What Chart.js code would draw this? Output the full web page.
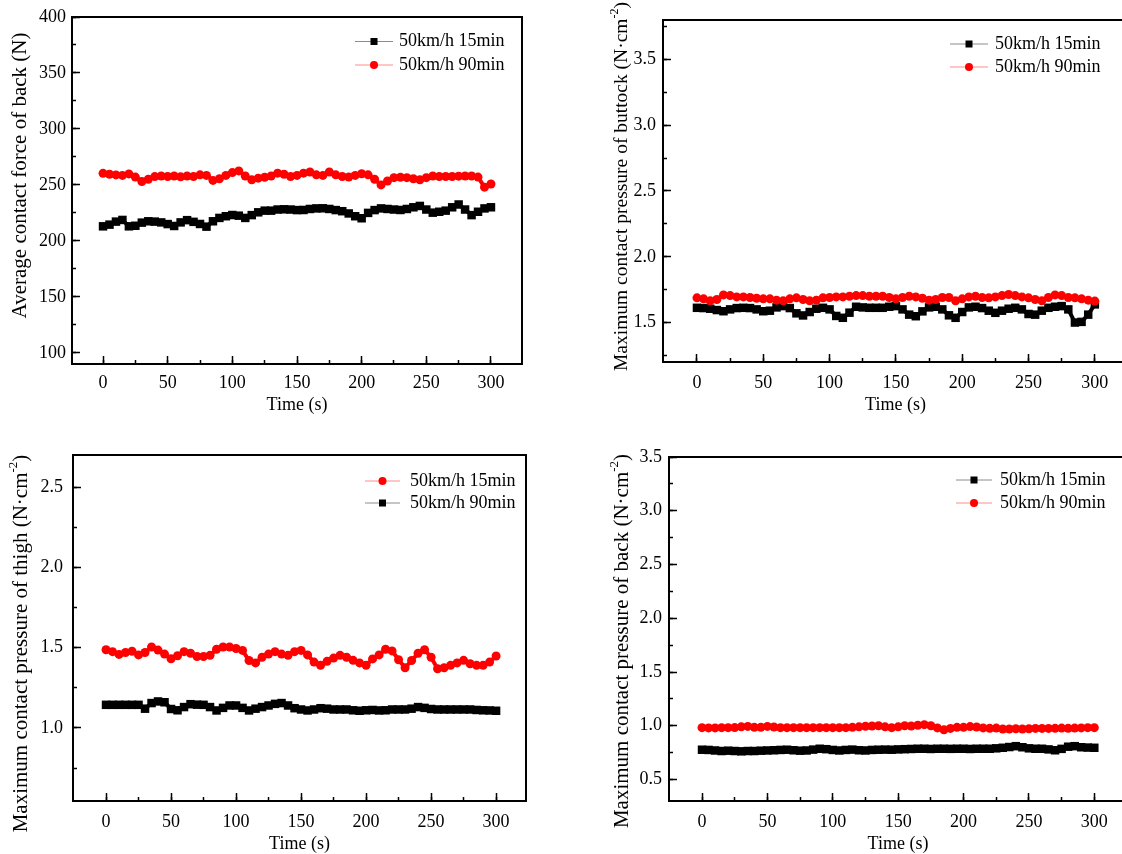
<!DOCTYPE html>
<html>
<head>
<meta charset="utf-8">
<title>Seat contact force and pressure over time</title>
<script src="https://cdn.jsdelivr.net/npm/chart.js@4.4.1/dist/chart.umd.min.js"></script>
<style>
  html, body { margin: 0; padding: 0; background: #fff; overflow: hidden; }
  body { width: 1122px; height: 854px; position: relative; }
  canvas { position: absolute; }
</style>
</head>
<body>
<canvas id="backForce" width="561" height="427" style="left:0;top:0"></canvas>
<canvas id="buttock" width="600" height="427" style="left:561px;top:0"></canvas>
<canvas id="thigh" width="561" height="427" style="left:0;top:427px"></canvas>
<canvas id="backPressure" width="600" height="427" style="left:561px;top:427px"></canvas>
<script>
// Sampling times (s)
const timeSec = [0,5,10,15,20,25,30,35,40,45,50,55,60,65,70,75,80,85,90,95,100,
  105,110,115,120,125,130,135,140,145,150,155,160,165,170,175,180,185,190,195,200,
  205,210,215,220,225,230,235,240,245,250,255,260,265,270,275,280,285,290,295,300];

// Tick values
const timeTicks = [0,50,100,150,200,250,300];
const timeMinorTicks = [0,25,50,75,100,125,150,175,200,225,250,275,300];
const backForceTicks = [100,150,200,250,300,350,400];
const backForceMinorTicks = [100,125,150,175,200,225,250,275,300,325,350,375,400];
const buttockTicks = [1.5,2.0,2.5,3.0,3.5];
const buttockMinorTicks = [1.25,1.5,1.75,2.0,2.25,2.5,2.75,3.0,3.25,3.5,3.75];
const thighTicks = [1.0,1.5,2.0,2.5];
const thighMinorTicks = [0.75,1.0,1.25,1.5,1.75,2.0,2.25,2.5];
const backPressureTicks = [0.5,1.0,1.5,2.0,2.5,3.0,3.5];
const backPressureMinorTicks = [0.5,0.75,1.0,1.25,1.5,1.75,2.0,2.25,2.5,2.75,3.0,3.25,3.5];

// Average contact force of back (N)
const backForce15 = [213.0,214.5,217.2,218.7,213.0,213.5,216.3,217.5,217.2,216.5,215.0,213.3,216.5,218.5,217.0,215.1,212.7,217.5,220.5,222.0,223.1,
  222.5,220.5,223.0,225.5,227.0,227.0,228.0,228.2,228.0,227.5,227.6,228.5,229.0,229.1,228.5,227.5,226.5,224.5,222.0,220.2,
  225.0,227.5,229.0,228.5,228.0,227.6,228.5,230.0,231.2,228.0,225.2,226.0,227.0,230.0,232.5,228.0,223.0,226.0,229.0,230.0];
const backForce90 = [260.3,259.5,258.9,258.5,259.8,257.0,253.0,255.0,257.4,258.0,257.5,258.0,257.2,258.0,257.5,259.0,258.5,254.0,255.5,258.5,261.0,
  262.5,258.0,254.5,256.0,256.8,258.0,260.5,259.5,257.5,258.5,260.5,261.5,259.0,258.5,261.5,259.0,257.5,257.0,258.5,260.0,
  259.0,255.0,250.0,253.5,256.5,256.8,256.5,255.5,254.5,256.5,258.0,257.5,257.5,257.5,257.8,258.0,258.0,257.0,248.0,250.8];

// Maximum contact pressure of buttock (N·cm^-2)
const buttock15 = [1.612,1.610,1.605,1.595,1.586,1.600,1.610,1.612,1.610,1.600,1.586,1.590,1.615,1.625,1.610,1.570,1.554,1.580,1.605,1.612,1.600,
  1.550,1.536,1.575,1.620,1.615,1.612,1.612,1.612,1.620,1.625,1.600,1.560,1.548,1.585,1.615,1.620,1.600,1.555,1.536,1.580,
  1.615,1.620,1.610,1.590,1.574,1.590,1.605,1.612,1.600,1.565,1.560,1.590,1.612,1.620,1.625,1.600,1.500,1.505,1.560,1.638];
const buttock90 = [1.688,1.680,1.665,1.675,1.710,1.705,1.695,1.695,1.690,1.685,1.680,1.680,1.670,1.665,1.680,1.688,1.675,1.665,1.670,1.688,1.690,
  1.695,1.695,1.700,1.705,1.705,1.700,1.700,1.700,1.690,1.680,1.690,1.700,1.695,1.685,1.670,1.675,1.690,1.690,1.665,1.680,
  1.695,1.700,1.690,1.688,1.695,1.705,1.713,1.705,1.695,1.688,1.675,1.665,1.690,1.710,1.705,1.690,1.688,1.680,1.670,1.663];

// Maximum contact pressure of thigh (N·cm^-2)
const thigh15 = [1.487,1.475,1.458,1.470,1.478,1.455,1.470,1.504,1.485,1.460,1.431,1.450,1.475,1.465,1.445,1.445,1.452,1.490,1.504,1.504,1.495,
  1.483,1.420,1.405,1.440,1.460,1.475,1.460,1.452,1.475,1.483,1.455,1.410,1.390,1.415,1.435,1.452,1.440,1.421,1.405,1.390,
  1.430,1.455,1.490,1.480,1.425,1.375,1.420,1.465,1.487,1.440,1.369,1.375,1.390,1.405,1.421,1.400,1.390,1.390,1.410,1.448];
const thigh90 = [1.144,1.144,1.144,1.144,1.144,1.144,1.120,1.155,1.165,1.160,1.118,1.110,1.130,1.148,1.145,1.144,1.130,1.109,1.125,1.140,1.140,
  1.125,1.109,1.120,1.130,1.140,1.150,1.155,1.140,1.123,1.115,1.109,1.115,1.123,1.120,1.115,1.115,1.115,1.110,1.107,1.110,
  1.112,1.109,1.110,1.115,1.115,1.115,1.120,1.130,1.125,1.118,1.115,1.115,1.115,1.115,1.115,1.115,1.112,1.110,1.109,1.107];

// Maximum contact pressure of back (N·cm^-2)
const backPressure15 = [0.777,0.775,0.770,0.765,0.768,0.765,0.762,0.765,0.765,0.768,0.770,0.772,0.775,0.777,0.772,0.768,0.770,0.778,0.786,0.782,0.775,
  0.770,0.775,0.778,0.772,0.770,0.775,0.777,0.778,0.777,0.780,0.782,0.784,0.786,0.786,0.784,0.786,0.786,0.785,0.786,0.786,
  0.784,0.786,0.786,0.786,0.790,0.795,0.802,0.810,0.800,0.790,0.786,0.786,0.780,0.772,0.785,0.805,0.810,0.800,0.797,0.795];
const backPressure90 = [0.982,0.980,0.980,0.982,0.982,0.983,0.990,0.994,0.985,0.985,0.994,0.988,0.982,0.982,0.982,0.982,0.982,0.982,0.982,0.982,0.982,
  0.982,0.982,0.985,0.990,0.995,0.998,1.000,0.990,0.982,0.990,1.000,0.998,1.005,1.010,1.000,0.980,0.963,0.975,0.985,0.985,
  0.992,0.988,0.980,0.976,0.978,0.970,0.970,0.972,0.970,0.972,0.975,0.975,0.975,0.976,0.978,0.976,0.978,0.980,0.982,0.982];

const label15 = '50km/h 15min';
const label90 = '50km/h 90min';

const SERIF = "'Liberation Serif', 'Times New Roman', serif";
const BLACK = '#000000';
const RED = '#ff0000';

function series(label, values, color, style, order) {
  return {
    label,
    data: timeSec.map((t, i) => ({ x: t, y: values[i] })),
    borderColor: color,
    backgroundColor: color,
    borderWidth: 4,
    tension: 0,
    pointStyle: style,
    pointRadius: style === 'rect' ? 6 : 4.5,
    pointBorderWidth: 0,
    pointBackgroundColor: color,
    pointHoverRadius: 0,
    order,
    legendLine: color === RED ? '#ff8c8c' : '#8c8c8c'
  };
}

// Rotated rich text (supports a raised superscript part)
function drawRich(ctx, parts, size) {
  const fonts = parts.map(p => (p.sup ? Math.round(size * 0.6) : size) + 'px ' + SERIF);
  let total = 0;
  const widths = parts.map((p, i) => {
    ctx.font = fonts[i];
    const w = ctx.measureText(p.t).width;
    total += w;
    return w;
  });
  let x = -total / 2;
  ctx.textAlign = 'left';
  ctx.textBaseline = 'middle';
  ctx.fillStyle = '#000';
  parts.forEach((p, i) => {
    ctx.font = fonts[i];
    ctx.fillText(p.t, x, p.sup ? -size * 0.36 : 0);
    x += widths[i];
  });
}

// Frame, vertical axis title and line+symbol legend
const panelDecor = {
  id: 'panelDecor',
  afterDraw(chart, args, o) {
    const { ctx, chartArea: a } = chart;
    ctx.save();
    ctx.strokeStyle = '#000';
    ctx.lineWidth = 2;
    ctx.strokeRect(a.left, a.top, a.right - a.left, a.bottom - a.top);
    ctx.translate(a.left - o.titleDx, (a.top + a.bottom) / 2 + o.titleDy);
    ctx.rotate(-Math.PI / 2);
    drawRich(ctx, o.title, o.titleSize);
    ctx.restore();

    ctx.save();
    chart.data.datasets.forEach((ds, i) => {
      const y = a.top + o.legend.rows[i];
      const x1 = a.left + o.legend.x1, x2 = a.left + o.legend.x2, xm = (x1 + x2) / 2;
      ctx.strokeStyle = ds.legendLine;
      ctx.lineWidth = 1;
      ctx.beginPath();
      ctx.moveTo(x1, y);
      ctx.lineTo(x2, y);
      ctx.stroke();
      ctx.fillStyle = ds.borderColor;
      if (ds.pointStyle === 'rect') {
        ctx.fillRect(xm - 3.5, y - 3.5, 7, 7);
      } else {
        ctx.beginPath();
        ctx.arc(xm, y, 4, 0, Math.PI * 2);
        ctx.fill();
      }
      ctx.fillStyle = '#000';
      ctx.font = '18px ' + SERIF;
      ctx.textAlign = 'left';
      ctx.textBaseline = 'middle';
      ctx.fillText(ds.label, a.left + o.legend.tx, y);
    });
    ctx.restore();
  }
};

function fixedTicks(values) {
  return s => { s.ticks = values.map(v => ({ value: v })); };
}

function makePanel(id, p) {
  const tickFont = { family: SERIF, size: 18 };
  const minorGrid = { drawOnChartArea: false, drawTicks: true, tickLength: -4, tickWidth: 1.5, tickColor: '#000' };
  new Chart(document.getElementById(id), {
    type: 'line',
    data: { datasets: p.datasets },
    options: {
      responsive: false,
      animation: false,
      devicePixelRatio: 1,
      events: [],
      layout: { padding: { top: p.padTop, right: p.padRight, left: 0, bottom: 0 } },
      plugins: {
        legend: { display: false },
        tooltip: { enabled: false },
        panelDecor: { title: p.title, titleSize: p.titleSize, titleDx: p.titleDx, titleDy: p.titleDy, legend: p.legend }
      },
      scales: {
        x: {
          type: 'linear', position: 'bottom', weight: 1,
          min: p.xMin, max: p.xMax,
          afterBuildTicks: fixedTicks(timeTicks),
          ticks: { padding: p.xTickPad, color: '#000', font: tickFont,
                   maxRotation: 0, autoSkip: false, callback: v => String(v) },
          grid: { drawOnChartArea: false, drawTicks: true, tickLength: -8, tickWidth: 1.5, tickColor: '#000' },
          border: { display: false },
          title: { display: true, text: 'Time (s)', color: '#000', font: tickFont,
                   padding: { top: 0, bottom: p.xTitlePad } },
          afterFit(s) { s.height = p.xHeight; s.paddingLeft = 0; s.paddingRight = 0; }
        },
        xMinor: {
          type: 'linear', position: 'bottom', weight: 0,
          min: p.xMin, max: p.xMax,
          afterBuildTicks: fixedTicks(timeMinorTicks),
          ticks: { display: false },
          grid: minorGrid,
          border: { display: false },
          afterFit(s) { s.height = 0; s.paddingLeft = 0; s.paddingRight = 0; }
        },
        y: {
          type: 'linear', position: 'left', weight: 1,
          min: p.yMin, max: p.yMax,
          afterBuildTicks: fixedTicks(p.yTicks),
          ticks: { padding: p.yTickPad, color: '#000', font: tickFont,
                   autoSkip: false, callback: v => v.toFixed(p.yDec) },
          grid: { drawOnChartArea: false, drawTicks: true, tickLength: -8, tickWidth: 1.5, tickColor: '#000' },
          border: { display: false },
          afterFit(s) { s.width = p.yWidth; s.paddingTop = 0; s.paddingBottom = 0; }
        },
        yMinor: {
          type: 'linear', position: 'left', weight: 0,
          min: p.yMin, max: p.yMax,
          afterBuildTicks: fixedTicks(p.yMinorTicks),
          ticks: { display: false },
          grid: minorGrid,
          border: { display: false },
          afterFit(s) { s.width = 0; s.paddingTop = 0; s.paddingBottom = 0; }
        }
      }
    },
    plugins: [panelDecor]
  });
}

makePanel('backForce', {
  datasets: [series(label15, backForce15, BLACK, 'rect', 1), series(label90, backForce90, RED, 'circle', 0)],
  xMin: -24, xMax: 324, yMin: 90, yMax: 400, yDec: 0,
  yTicks: backForceTicks, yMinorTicks: backForceMinorTicks,
  padTop: 17, padRight: 39, yWidth: 72, xHeight: 63,
  xTickPad: 16, yTickPad: 14, xTitlePad: 11,
  title: [{ t: 'Average contact force of back (N)' }], titleSize: 21, titleDx: 52, titleDy: -15,
  legend: { x1: 283, x2: 321, tx: 327, rows: [24.5, 48] }
});

makePanel('buttock', {
  datasets: [series(label15, buttock15, BLACK, 'rect', 1), series(label90, buttock90, RED, 'circle', 0)],
  xMin: -25.6, xMax: 325, yMin: 1.2, yMax: 3.8, yDec: 1,
  yTicks: buttockTicks, yMinorTicks: buttockMinorTicks,
  padTop: 20, padRight: 33, yWidth: 102, xHeight: 65,
  xTickPad: 18, yTickPad: 15, xTitlePad: 11,
  title: [{ t: 'Maximum contact pressure of buttock (N\u00b7cm' }, { t: '-2', sup: true }, { t: ')' }],
  titleSize: 19.5, titleDx: 41, titleDy: -4.5,
  legend: { x1: 287, x2: 325, tx: 332, rows: [24, 47] }
});

makePanel('thigh', {
  datasets: [series(label15, thigh15, RED, 'circle', 0), series(label90, thigh90, BLACK, 'rect', 1)],
  xMin: -25.4, xMax: 323, yMin: 0.545, yMax: 2.7, yDec: 1,
  yTicks: thighTicks, yMinorTicks: thighMinorTicks,
  padTop: 28, padRight: 35, yWidth: 73, xHeight: 53,
  xTickPad: 18, yTickPad: 18, xTitlePad: -1,
  title: [{ t: 'Maximum contact pressure of thigh (N\u00b7cm' }, { t: '-2', sup: true }, { t: ')' }],
  titleSize: 21, titleDx: 52, titleDy: 15.5,
  legend: { x1: 292, x2: 327, tx: 337, rows: [26, 48] }
});

makePanel('backPressure', {
  datasets: [series(label15, backPressure15, BLACK, 'rect', 1), series(label90, backPressure90, RED, 'circle', 0)],
  xMin: -25.25, xMax: 325, yMin: 0.3, yMax: 3.5, yDec: 1,
  yTicks: backPressureTicks, yMinorTicks: backPressureMinorTicks,
  padTop: 30, padRight: 34, yWidth: 108, xHeight: 53,
  xTickPad: 18, yTickPad: 15, xTitlePad: -1,
  title: [{ t: 'Maximum contact pressure of back (N\u00b7cm' }, { t: '-2', sup: true }, { t: ')' }],
  titleSize: 21, titleDx: 47, titleDy: 12,
  legend: { x1: 287, x2: 323, tx: 331, rows: [23, 46] }
});
</script>
</body>
</html>
